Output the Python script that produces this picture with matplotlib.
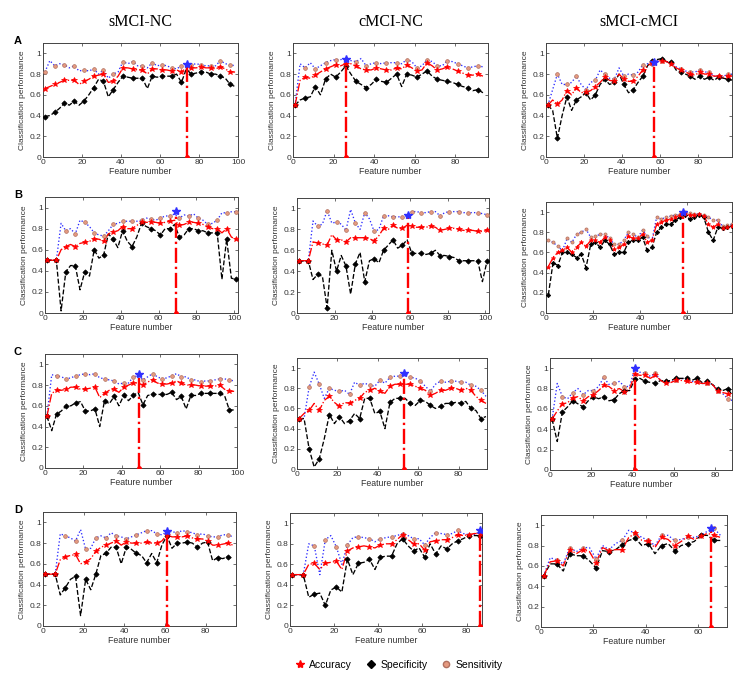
import numpy as np
import matplotlib.pyplot as plt
from matplotlib.lines import Line2D
from matplotlib.ticker import FuncFormatter

plt.rcParams['font.family'] = ['Liberation Sans', 'DejaVu Sans']

cols = ["sMCI-NC", "cMCI-NC", "sMCI-cMCI"]
rows = ["A", "B", "C", "D"]

# per panel (row-major): x axis end, best feature number, best value
xmax = [100, 96, 98, 102, 102, 79, 100, 94, 88, 95, 87, 71]
best_x = [74, 26, 57, 69, 59, 58, 49, 53, 41, 61, 86, 65]
best_y = [0.90, 0.95, 0.92, 0.97, 0.94, 1.00, 0.91, 0.95, 1.00, 0.92, 0.93, 0.97]
step = [5, 5, 5, 5, 5, 2, 5, 5, 5, 5, 5, 5]

# values at marked feature numbers (1, 6, 11, ...) and in between (3.5, 8.5, ...)
a1_acc = [0.66, 0.70, 0.74, 0.74, 0.73, 0.78, 0.80, 0.73, 0.86, 0.85, 0.84, 0.85, 0.84, 0.83, 0.82, 0.86, 0.87, 0.86, 0.87, 0.82]
a1_acc_mid = [0.68, 0.72, 0.74, 0.70, 0.75, 0.79, 0.72, 0.78, 0.86, 0.84, 0.80, 0.85, 0.84, 0.84, 0.86, 0.86, 0.86, 0.85, 0.85, 0.82]
a1_spe = [0.39, 0.43, 0.52, 0.54, 0.54, 0.67, 0.73, 0.65, 0.78, 0.76, 0.76, 0.78, 0.78, 0.78, 0.72, 0.80, 0.82, 0.80, 0.78, 0.70]
a1_spe_mid = [0.40, 0.47, 0.50, 0.50, 0.60, 0.75, 0.58, 0.72, 0.77, 0.76, 0.66, 0.77, 0.78, 0.80, 0.85, 0.81, 0.82, 0.80, 0.76, 0.68]
a1_sen = [0.82, 0.88, 0.89, 0.88, 0.84, 0.85, 0.84, 0.80, 0.92, 0.92, 0.88, 0.91, 0.89, 0.86, 0.88, 0.89, 0.89, 0.88, 0.93, 0.89]
a1_sen_mid = [0.93, 0.90, 0.86, 0.83, 0.83, 0.80, 0.76, 0.82, 0.90, 0.88, 0.86, 0.88, 0.88, 0.85, 0.90, 0.90, 0.88, 0.88, 0.90, 0.88]

a2_acc = [0.50, 0.77, 0.79, 0.85, 0.89, 0.90, 0.88, 0.84, 0.86, 0.84, 0.86, 0.89, 0.83, 0.91, 0.84, 0.87, 0.83, 0.79, 0.80]
a2_acc_mid = [0.74, 0.76, 0.82, 0.87, 0.88, 0.90, 0.85, 0.84, 0.85, 0.84, 0.85, 0.86, 0.84, 0.88, 0.85, 0.85, 0.81, 0.79, 0.78]
a2_spe = [0.50, 0.57, 0.68, 0.75, 0.77, 0.88, 0.73, 0.67, 0.75, 0.72, 0.80, 0.80, 0.77, 0.83, 0.75, 0.73, 0.70, 0.67, 0.65]
a2_spe_mid = [0.55, 0.58, 0.60, 0.80, 0.82, 0.80, 0.70, 0.70, 0.73, 0.76, 0.68, 0.79, 0.80, 0.78, 0.74, 0.72, 0.68, 0.64, 0.62]
a2_sen = [0.50, 0.86, 0.85, 0.91, 0.94, 0.95, 0.92, 0.88, 0.91, 0.91, 0.91, 0.94, 0.86, 0.94, 0.88, 0.93, 0.90, 0.86, 0.88]
a2_sen_mid = [0.90, 0.91, 0.88, 0.93, 0.94, 0.93, 0.95, 0.90, 0.90, 0.91, 0.90, 0.92, 0.88, 0.92, 0.88, 0.92, 0.88, 0.87, 0.87]

a3_acc = [0.50, 0.51, 0.64, 0.67, 0.63, 0.68, 0.77, 0.73, 0.75, 0.73, 0.84, 0.91, 0.93, 0.90, 0.84, 0.80, 0.82, 0.80, 0.78, 0.78]
a3_acc_mid = [0.55, 0.55, 0.60, 0.62, 0.64, 0.72, 0.74, 0.80, 0.73, 0.78, 0.88, 0.92, 0.92, 0.86, 0.82, 0.79, 0.80, 0.78, 0.77, 0.78]
a3_spe = [0.50, 0.18, 0.58, 0.55, 0.62, 0.60, 0.75, 0.72, 0.70, 0.65, 0.78, 0.93, 0.95, 0.92, 0.82, 0.78, 0.78, 0.77, 0.77, 0.75]
a3_spe_mid = [0.45, 0.40, 0.45, 0.58, 0.55, 0.70, 0.70, 0.80, 0.62, 0.72, 0.88, 0.94, 0.92, 0.84, 0.80, 0.75, 0.75, 0.74, 0.76, 0.74]
a3_sen = [0.50, 0.80, 0.70, 0.78, 0.65, 0.74, 0.80, 0.75, 0.78, 0.79, 0.89, 0.90, 0.93, 0.91, 0.85, 0.82, 0.84, 0.82, 0.78, 0.80]
a3_sen_mid = [0.65, 0.70, 0.72, 0.70, 0.72, 0.84, 0.76, 0.86, 0.80, 0.82, 0.90, 0.93, 0.92, 0.87, 0.83, 0.82, 0.82, 0.78, 0.78, 0.80]

b1_acc = [0.50, 0.50, 0.63, 0.63, 0.67, 0.70, 0.68, 0.77, 0.82, 0.80, 0.86, 0.86, 0.85, 0.87, 0.83, 0.86, 0.85, 0.82, 0.80, 0.80, 0.70]
b1_acc_mid = [0.50, 0.60, 0.65, 0.66, 0.68, 0.70, 0.75, 0.78, 0.80, 0.83, 0.86, 0.86, 0.86, 0.88, 0.84, 0.86, 0.84, 0.80, 0.76, 0.72]
b1_spe = [0.50, 0.50, 0.39, 0.45, 0.39, 0.60, 0.55, 0.70, 0.78, 0.63, 0.85, 0.80, 0.74, 0.80, 0.72, 0.80, 0.78, 0.76, 0.76, 0.70, 0.32]
b1_spe_mid = [0.50, 0.02, 0.45, 0.22, 0.35, 0.52, 0.75, 0.62, 0.68, 0.72, 0.82, 0.78, 0.80, 0.84, 0.74, 0.80, 0.78, 0.76, 0.32, 0.33]
b1_sen = [0.50, 0.50, 0.78, 0.75, 0.86, 0.76, 0.73, 0.84, 0.87, 0.87, 0.88, 0.89, 0.90, 0.92, 0.90, 0.92, 0.90, 0.84, 0.88, 0.95, 0.96]
b1_sen_mid = [0.50, 0.85, 0.80, 0.88, 0.82, 0.74, 0.78, 0.85, 0.87, 0.87, 0.90, 0.88, 0.92, 0.94, 0.93, 0.94, 0.88, 0.85, 0.95, 0.96]

b2_acc = [0.50, 0.50, 0.67, 0.65, 0.70, 0.68, 0.72, 0.72, 0.69, 0.81, 0.84, 0.81, 0.83, 0.82, 0.83, 0.79, 0.81, 0.80, 0.79, 0.78, 0.79]
b2_acc_mid = [0.50, 0.68, 0.66, 0.75, 0.70, 0.72, 0.72, 0.71, 0.74, 0.80, 0.81, 0.84, 0.82, 0.82, 0.82, 0.80, 0.81, 0.79, 0.79, 0.78]
b2_spe = [0.50, 0.50, 0.37, 0.05, 0.40, 0.45, 0.47, 0.30, 0.52, 0.60, 0.70, 0.65, 0.57, 0.57, 0.57, 0.55, 0.54, 0.50, 0.50, 0.50, 0.50]
b2_spe_mid = [0.50, 0.32, 0.35, 0.60, 0.55, 0.18, 0.58, 0.50, 0.48, 0.65, 0.62, 0.70, 0.57, 0.56, 0.60, 0.55, 0.53, 0.50, 0.50, 0.30]
b2_sen = [0.50, 0.50, 0.83, 0.98, 0.87, 0.79, 0.86, 0.96, 0.78, 0.93, 0.92, 0.92, 0.97, 0.96, 0.97, 0.93, 0.97, 0.97, 0.96, 0.96, 0.94]
b2_sen_mid = [0.50, 0.88, 0.85, 0.86, 0.85, 0.99, 0.80, 0.90, 0.80, 0.93, 0.92, 0.93, 0.97, 0.96, 0.97, 0.96, 0.97, 0.96, 0.96, 0.95]

# sMCI-cMCI row B is marked at every other feature (1, 3, 5, ...)
b3_acc = [0.46, 0.55, 0.60, 0.62, 0.65, 0.60, 0.65, 0.70, 0.66, 0.72, 0.72, 0.70, 0.75, 0.72, 0.63, 0.65, 0.68, 0.76, 0.74, 0.74,
          0.78, 0.70, 0.72, 0.88, 0.90, 0.92, 0.93, 0.95, 0.97, 0.98, 0.97, 0.97, 0.98, 0.96, 0.88, 0.85, 0.88, 0.84, 0.85, 0.86]
b3_spe = [0.18, 0.50, 0.47, 0.60, 0.60, 0.58, 0.55, 0.58, 0.45, 0.68, 0.70, 0.65, 0.72, 0.68, 0.58, 0.60, 0.60, 0.70, 0.72, 0.72,
          0.75, 0.62, 0.65, 0.80, 0.85, 0.88, 0.88, 0.92, 0.95, 0.97, 0.93, 0.95, 0.97, 0.95, 0.80, 0.72, 0.85, 0.84, 0.85, 0.86]
b3_sen = [0.72, 0.70, 0.66, 0.62, 0.74, 0.70, 0.78, 0.80, 0.83, 0.75, 0.76, 0.78, 0.78, 0.74, 0.68, 0.68, 0.72, 0.80, 0.78, 0.75,
          0.82, 0.76, 0.72, 0.95, 0.93, 0.95, 0.96, 0.97, 0.98, 1.00, 0.99, 0.98, 0.98, 0.97, 0.95, 0.92, 0.92, 0.86, 0.87, 0.88]

c1_acc = [0.50, 0.75, 0.76, 0.78, 0.76, 0.78, 0.72, 0.76, 0.78, 0.82, 0.80, 0.85, 0.81, 0.82, 0.82, 0.80, 0.79, 0.79, 0.80, 0.74]
c1_acc_mid = [0.72, 0.75, 0.78, 0.76, 0.77, 0.68, 0.75, 0.73, 0.80, 0.82, 0.83, 0.82, 0.81, 0.84, 0.80, 0.80, 0.79, 0.79, 0.76, 0.74]
c1_spe = [0.50, 0.52, 0.60, 0.63, 0.55, 0.57, 0.65, 0.69, 0.70, 0.70, 0.61, 0.71, 0.71, 0.73, 0.69, 0.70, 0.72, 0.72, 0.72, 0.56]
c1_spe_mid = [0.36, 0.55, 0.60, 0.64, 0.55, 0.40, 0.62, 0.60, 0.65, 0.73, 0.70, 0.71, 0.71, 0.66, 0.57, 0.70, 0.72, 0.72, 0.70, 0.56]
c1_sen = [0.50, 0.89, 0.86, 0.89, 0.91, 0.91, 0.86, 0.84, 0.82, 0.88, 0.85, 0.91, 0.86, 0.89, 0.88, 0.85, 0.83, 0.84, 0.86, 0.85]
c1_sen_mid = [0.90, 0.88, 0.87, 0.90, 0.90, 0.87, 0.85, 0.81, 0.82, 0.89, 0.88, 0.88, 0.87, 0.91, 0.88, 0.85, 0.84, 0.85, 0.86, 0.84]

c2_acc = [0.50, 0.58, 0.58, 0.72, 0.62, 0.65, 0.70, 0.78, 0.77, 0.82, 0.84, 0.84, 0.80, 0.73, 0.78, 0.80, 0.78, 0.78, 0.68]
c2_acc_mid = [0.55, 0.65, 0.68, 0.66, 0.66, 0.68, 0.76, 0.80, 0.75, 0.84, 0.84, 0.82, 0.78, 0.75, 0.78, 0.80, 0.80, 0.72, 0.65]
c2_spe = [0.50, 0.20, 0.10, 0.54, 0.52, 0.48, 0.50, 0.70, 0.57, 0.66, 0.70, 0.65, 0.68, 0.63, 0.62, 0.65, 0.65, 0.60, 0.50]
c2_spe_mid = [0.50, 0.02, 0.30, 0.45, 0.45, 0.55, 0.70, 0.55, 0.40, 0.70, 0.70, 0.63, 0.67, 0.60, 0.65, 0.66, 0.67, 0.58, 0.52]
c2_sen = [0.50, 0.81, 0.84, 0.80, 0.77, 0.74, 0.83, 0.83, 0.88, 0.91, 0.92, 0.91, 0.87, 0.77, 0.87, 0.87, 0.86, 0.83, 0.78]
c2_sen_mid = [0.50, 0.96, 0.70, 0.78, 0.78, 0.86, 0.85, 0.82, 0.85, 0.92, 0.95, 0.90, 0.82, 0.84, 0.86, 0.87, 0.86, 0.82, 0.72]

c3_acc = [0.50, 0.65, 0.71, 0.68, 0.74, 0.83, 0.78, 0.77, 0.94, 0.93, 0.93, 0.85, 0.88, 0.87, 0.86, 0.85, 0.78, 0.75]
c3_acc_mid = [0.58, 0.66, 0.72, 0.72, 0.78, 0.82, 0.80, 0.80, 0.93, 0.90, 0.88, 0.86, 0.88, 0.86, 0.85, 0.84, 0.76, 0.72]
c3_spe = [0.50, 0.57, 0.68, 0.62, 0.72, 0.72, 0.69, 0.78, 0.89, 0.87, 0.85, 0.87, 0.90, 0.90, 0.90, 0.87, 0.80, 0.80]
c3_spe_mid = [0.28, 0.62, 0.65, 0.68, 0.70, 0.68, 0.75, 0.78, 0.90, 0.86, 0.88, 0.88, 0.90, 0.88, 0.86, 0.84, 0.78, 0.72]
c3_sen = [0.50, 0.72, 0.76, 0.74, 0.78, 0.91, 0.85, 0.82, 1.00, 0.95, 0.95, 0.86, 0.88, 0.89, 0.87, 0.85, 0.78, 0.70]
c3_sen_mid = [0.85, 0.70, 0.80, 0.78, 0.82, 0.84, 0.87, 0.82, 0.96, 0.92, 0.88, 0.87, 0.90, 0.87, 0.85, 0.84, 0.75, 0.68]

d1_acc = [0.50, 0.50, 0.67, 0.69, 0.62, 0.72, 0.78, 0.82, 0.81, 0.80, 0.81, 0.80, 0.88, 0.86, 0.87, 0.84, 0.82, 0.78, 0.80]
d1_acc_mid = [0.50, 0.64, 0.68, 0.60, 0.65, 0.76, 0.80, 0.78, 0.80, 0.80, 0.80, 0.82, 0.86, 0.86, 0.85, 0.84, 0.78, 0.79, 0.78]
d1_spe = [0.50, 0.50, 0.37, 0.48, 0.45, 0.50, 0.70, 0.76, 0.76, 0.70, 0.61, 0.61, 0.87, 0.80, 0.81, 0.76, 0.81, 0.66, 0.67]
d1_spe_mid = [0.50, 0.30, 0.45, 0.10, 0.35, 0.68, 0.76, 0.60, 0.74, 0.68, 0.70, 0.78, 0.75, 0.80, 0.80, 0.80, 0.63, 0.65, 0.65]
d1_sen = [0.50, 0.50, 0.87, 0.82, 0.74, 0.85, 0.85, 0.87, 0.84, 0.88, 0.92, 0.89, 0.91, 0.90, 0.91, 0.88, 0.87, 0.86, 0.88]
d1_sen_mid = [0.50, 0.89, 0.85, 0.93, 0.75, 0.87, 0.90, 0.86, 0.86, 0.90, 0.92, 0.88, 0.91, 0.92, 0.90, 0.89, 0.86, 0.88, 0.86]

d2_acc = [0.50, 0.50, 0.61, 0.61, 0.63, 0.73, 0.77, 0.77, 0.79, 0.80, 0.89, 0.80, 0.74, 0.83, 0.84, 0.89, 0.89, 0.90]
d2_acc_mid = [0.50, 0.60, 0.55, 0.62, 0.55, 0.76, 0.78, 0.76, 0.80, 0.84, 0.84, 0.80, 0.82, 0.84, 0.86, 0.88, 0.90]
d2_spe = [0.50, 0.50, 0.31, 0.20, 0.38, 0.65, 0.61, 0.65, 0.67, 0.68, 0.85, 0.73, 0.67, 0.70, 0.75, 0.83, 0.88, 0.88]
d2_spe_mid = [0.50, 0.28, 0.32, 0.35, 0.33, 0.50, 0.62, 0.55, 0.68, 0.80, 0.78, 0.76, 0.80, 0.78, 0.80, 0.85, 0.88]
d2_sen = [0.50, 0.50, 0.78, 0.84, 0.77, 0.79, 0.87, 0.85, 0.85, 0.87, 0.90, 0.85, 0.79, 0.91, 0.89, 0.93, 0.89, 0.92]
d2_sen_mid = [0.50, 0.80, 0.50, 0.88, 0.60, 0.86, 0.86, 0.82, 0.86, 0.88, 0.88, 0.85, 0.86, 0.90, 0.90, 0.90, 0.89]

d3_acc = [0.50, 0.65, 0.76, 0.76, 0.63, 0.75, 0.76, 0.92, 0.84, 0.88, 0.80, 0.89, 0.89, 0.90]
d3_acc_mid = [0.64, 0.60, 0.72, 0.74, 0.78, 0.76, 0.88, 0.85, 0.78, 0.86, 0.84, 0.86, 0.92, 0.88]
d3_spe = [0.50, 0.62, 0.72, 0.70, 0.58, 0.74, 0.81, 0.87, 0.82, 0.80, 0.75, 0.82, 0.90, 0.85]
d3_spe_mid = [0.62, 0.55, 0.70, 0.65, 0.75, 0.76, 0.85, 0.80, 0.72, 0.82, 0.80, 0.84, 0.90, 0.85]
d3_sen = [0.50, 0.66, 0.78, 0.78, 0.67, 0.76, 0.85, 0.92, 0.85, 0.90, 0.85, 0.88, 0.90, 0.97]
d3_sen_mid = [0.68, 0.62, 0.74, 0.78, 0.80, 0.82, 0.95, 0.88, 0.80, 0.90, 0.86, 0.88, 0.94, 0.90]

panels = [
    (a1_acc, a1_acc_mid, a1_spe, a1_spe_mid, a1_sen, a1_sen_mid),
    (a2_acc, a2_acc_mid, a2_spe, a2_spe_mid, a2_sen, a2_sen_mid),
    (a3_acc, a3_acc_mid, a3_spe, a3_spe_mid, a3_sen, a3_sen_mid),
    (b1_acc, b1_acc_mid, b1_spe, b1_spe_mid, b1_sen, b1_sen_mid),
    (b2_acc, b2_acc_mid, b2_spe, b2_spe_mid, b2_sen, b2_sen_mid),
    (b3_acc, [], b3_spe, [], b3_sen, []),
    (c1_acc, c1_acc_mid, c1_spe, c1_spe_mid, c1_sen, c1_sen_mid),
    (c2_acc, c2_acc_mid, c2_spe, c2_spe_mid, c2_sen, c2_sen_mid),
    (c3_acc, c3_acc_mid, c3_spe, c3_spe_mid, c3_sen, c3_sen_mid),
    (d1_acc, d1_acc_mid, d1_spe, d1_spe_mid, d1_sen, d1_sen_mid),
    (d2_acc, d2_acc_mid, d2_spe, d2_spe_mid, d2_sen, d2_sen_mid),
    (d3_acc, d3_acc_mid, d3_spe, d3_spe_mid, d3_sen, d3_sen_mid),
]

# axes boxes in pixels: left, top, right, bottom
boxes = [
    (43, 43, 238, 157), (293, 43, 488, 157), (546, 43, 732, 157),
    (45, 197, 238, 313), (297, 198, 489, 313), (546, 202, 732, 313),
    (45, 354, 237, 468), (297, 358, 487, 469), (550, 358, 732, 470),
    (43, 512, 236, 626), (290, 513, 482, 626), (541, 515, 727, 627),
]

W, H = 748, 678
SALMON = '#e59a80'

fig = plt.figure(figsize=(W / 100, H / 100), dpi=100)


def series(ax, mk, mid, st, color, ls, marker, ms, mfc, mec):
    xm = 1 + st * np.arange(len(mk))
    xs = list(xm)
    ys = list(mk)
    if len(mid):
        xi = 1 + st / 2 + st * np.arange(len(mid))
        xs += list(xi)
        ys += list(mid)
    order = np.argsort(xs)
    ax.plot(np.array(xs)[order], np.array(ys)[order], ls=ls, color=color, lw=0.95, zorder=2)
    ax.plot(xm, mk, ls='none', marker=marker, ms=ms, mfc=mfc, mec=mec, mew=0.5, zorder=3)


for i, (acc, acc_m, spe, spe_m, sen, sen_m) in enumerate(panels):
    l, t, r, b = boxes[i]
    ax = fig.add_axes([l / W, 1 - b / H, (r - l) / W, (b - t) / H])
    st = step[i]
    ms = 3.0 if st == 5 else 2.5
    series(ax, sen, sen_m, st, '#2b2bff', ':', 'o', ms * 0.9, SALMON, '#b07060')
    series(ax, spe, spe_m, st, 'black', '--', 'D', ms * 0.9, 'black', 'black')
    series(ax, acc, acc_m, st, 'red', '-.', '*', ms * 1.3, 'red', 'red')
    ax.plot([best_x[i], best_x[i]], [0, best_y[i]], color='red', ls='-.', lw=1.7, zorder=4)
    ax.plot([best_x[i]], [0], marker='o', ms=2.5, color='red', zorder=4)
    ax.plot([best_x[i]], [best_y[i]], marker='*', ms=6, color='#3030ff', zorder=5)

    ax.set_xlim(0, xmax[i])
    ax.set_ylim(0, 1.1)
    ax.set_yticks([0, 0.2, 0.4, 0.6, 0.8, 1.0])
    ax.yaxis.set_major_formatter(FuncFormatter(lambda v, p: '%g' % v))
    ax.xaxis.set_major_locator(plt.MultipleLocator(20))
    ax.tick_params(direction='in', length=2.5, width=0.5, labelsize=6, pad=1.5,
                   top=True, right=True, colors='#333333', labelcolor='#333333')
    for s in ax.spines.values():
        s.set_linewidth(0.7)
        s.set_color('#444444')
    ax.set_xlabel('Feature number', fontsize=6.3, labelpad=1, color='#333333')
    ax.set_ylabel('Classification performance', fontsize=6.0, labelpad=2, color='#333333')

# column titles and row letters
for j, name in enumerate(cols):
    l, t, r, b = boxes[j]
    fig.text((l + r) / 2 / W, 1 - 22 / H, name, ha='center', va='center',
             fontsize=11.5, family='Liberation Serif')
for k, letter in enumerate(rows):
    t = boxes[3 * k][1]
    fig.text(18 / W, 1 - (t - 2) / H, letter, ha='center', va='center',
             fontsize=8, fontweight='bold')

handles = [
    Line2D([], [], ls='none', marker='*', ms=6, color='red'),
    Line2D([], [], ls='none', marker='D', ms=4, color='black'),
    Line2D([], [], ls='none', marker='o', ms=4.5, mfc=SALMON, mec='#b07060'),
]
fig.legend(handles, ['Accuracy', 'Specificity', 'Sensitivity'], loc='center',
           bbox_to_anchor=(398 / W, 1 - 665 / H), ncol=3, frameon=False,
           fontsize=7.5, handletextpad=0.3, columnspacing=1.2, handlelength=1.2)

fig.savefig('out.png', dpi=100)
